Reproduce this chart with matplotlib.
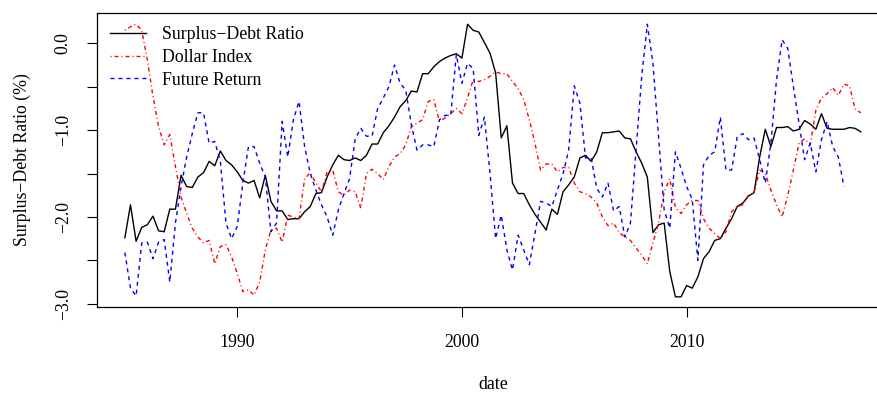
import numpy as np
import matplotlib
matplotlib.use("Agg")
import matplotlib.pyplot as plt
from matplotlib.ticker import FixedLocator, FuncFormatter

plt.rcParams['font.family'] = ['Liberation Serif', 'DejaVu Serif']
plt.rcParams['lines.scale_dashes'] = False

start_year = 1985.0

surplus_debt = [
    -2.24, -1.86, -2.28, -2.12, -2.09, -1.99, -2.16, -2.17, -1.91, -1.91,
    -1.52, -1.65, -1.66, -1.54, -1.49, -1.36, -1.41, -1.24, -1.35, -1.40,
    -1.48, -1.58, -1.61, -1.58, -1.78, -1.52, -1.82, -1.93, -1.93, -2.03,
    -2.02, -2.02, -1.94, -1.88, -1.73, -1.72, -1.54, -1.40, -1.29, -1.34,
    -1.35, -1.32, -1.35, -1.29, -1.16, -1.16, -1.03, -0.95, -0.85, -0.73,
    -0.66, -0.55, -0.56, -0.35, -0.35, -0.27, -0.21, -0.17, -0.14, -0.12,
    -0.17, 0.22, 0.15, 0.13, 0.01, -0.115, -0.34, -1.09, -0.95, -1.61,
    -1.73, -1.73, -1.86, -1.97, -2.06, -2.15, -1.91, -1.97, -1.71, -1.63,
    -1.54, -1.32, -1.29, -1.36, -1.25, -1.03, -1.03, -1.02, -1.01, -1.09,
    -1.10, -1.25, -1.38, -1.54, -2.18, -2.09, -2.07, -2.63, -2.92, -2.92,
    -2.79, -2.82, -2.69, -2.48, -2.40, -2.27, -2.25, -2.13, -2.02, -1.88,
    -1.84, -1.76, -1.72, -1.31, -0.99, -1.19, -0.97, -0.97, -0.96, -1.01,
    -0.99, -0.89, -0.93, -0.99, -0.81, -0.98, -0.99, -0.99, -0.99, -0.97,
    -0.98, -1.02,
]

dollar_index = [
    0.15, 0.19, 0.22, 0.15, -0.19, -0.61, -0.96, -1.17, -1.05, -1.42,
    -1.77, -1.96, -2.13, -2.23, -2.30, -2.27, -2.54, -2.34, -2.32, -2.46,
    -2.65, -2.86, -2.84, -2.90, -2.75, -2.38, -2.15, -2.13, -2.29, -1.98,
    -2.00, -2.02, -1.56, -1.49, -1.61, -1.71, -1.48, -1.46, -1.71, -1.75,
    -1.69, -1.71, -1.90, -1.50, -1.45, -1.50, -1.57, -1.42, -1.31, -1.27,
    -1.17, -0.96, -0.92, -0.88, -0.67, -0.65, -0.90, -0.86, -0.81, -0.75,
    -0.81, -0.63, -0.42, -0.44, -0.42, -0.38, -0.33, -0.35, -0.35, -0.44,
    -0.52, -0.65, -0.88, -1.15, -1.46, -1.39, -1.39, -1.48, -1.43, -1.43,
    -1.61, -1.71, -1.73, -1.77, -1.84, -2.00, -2.10, -2.07, -2.18, -2.23,
    -2.27, -2.36, -2.44, -2.54, -2.30, -2.07, -1.71, -1.56, -1.89, -1.96,
    -1.86, -1.81, -1.81, -2.02, -2.13, -2.19, -2.25, -2.17, -1.94, -1.88,
    -1.86, -1.75, -1.72, -1.46, -1.50, -1.69, -1.86, -2.00, -1.75, -1.46,
    -1.15, -1.10, -1.17, -0.77, -0.63, -0.58, -0.51, -0.60, -0.47, -0.49,
    -0.76, -0.80,
]

future_return = [
    -2.41, -2.82, -2.91, -2.30, -2.29, -2.48, -2.29, -2.26, -2.75, -2.07,
    -1.65, -1.31, -1.04, -0.80, -0.80, -1.15, -1.13, -1.36, -2.07, -2.25,
    -2.11, -1.61, -1.19, -1.19, -1.38, -1.54, -2.17, -2.07, -0.90, -1.31,
    -0.88, -0.67, -1.19, -1.50, -1.69, -1.86, -2.00, -2.21, -1.92, -1.73,
    -1.56, -1.10, -0.98, -1.07, -1.07, -0.75, -0.63, -0.50, -0.25, -0.46,
    -0.54, -0.94, -1.23, -1.17, -1.17, -1.19, -0.88, -0.83, -0.83, -0.13,
    -0.46, -0.23, -0.29, -1.06, -0.85, -1.50, -2.25, -1.98, -2.38, -2.61,
    -2.21, -2.38, -2.55, -2.19, -1.82, -1.84, -1.88, -1.69, -1.50, -1.23,
    -0.49, -0.69, -1.32, -1.32, -1.67, -1.77, -1.61, -1.93, -1.88, -2.23,
    -2.07, -1.23, -0.38, 0.22, -0.23, -1.08, -1.92, -2.13, -1.25, -1.44,
    -1.65, -1.80, -2.50, -1.40, -1.29, -1.25, -0.85, -1.46, -1.46, -1.08,
    -1.04, -1.11, -1.09, -1.34, -1.61, -1.15, -0.42, 0.04, -0.06, -0.50,
    -0.92, -1.34, -1.15, -1.48, -1.11, -0.90, -1.19, -1.31, -1.65,
]

series_labels = ["Surplus\u2212Debt Ratio", "Dollar Index", "Future Return"]
x_ticks = [1990, 2000, 2010]
y_ticks = [-3.0, -2.5, -2.0, -1.5, -1.0, -0.5, 0.0]

def quarters(vals):
    return start_year + np.arange(len(vals)) / 4.0

W, H = 877, 393
fig = plt.figure(figsize=(W / 100, H / 100), dpi=100)
# axes box in pixels: left 97, right 890 (cropped), top 13, bottom 307
ax = fig.add_axes([97 / W, 1 - 307 / H, (890 - 97) / W, (307 - 13) / H])

px = 0.72  # one pixel in points
ax.plot(quarters(surplus_debt), surplus_debt, color='black', lw=1.0, label=series_labels[0])
ax.plot(quarters(dollar_index), dollar_index, color='#FF0000', lw=1.0,
        linestyle=(0, (1 * px, 3 * px, 4 * px, 3 * px)), label=series_labels[1])
ax.plot(quarters(future_return), future_return, color='#0000FF', lw=1.0,
        linestyle=(0, (4 * px, 4 * px)), label=series_labels[2])

ax.set_xlim(1983.76, 2019.05)
ax.set_ylim(-3.037, 0.349)

ax.xaxis.set_major_locator(FixedLocator(x_ticks))
ax.yaxis.set_major_locator(FixedLocator(y_ticks))

def yfmt(v, p):
    if abs(v - round(v)) < 1e-6:
        return f"{v:.1f}".replace('-', '\u2212')
    return ''
ax.yaxis.set_major_formatter(FuncFormatter(yfmt))
ax.xaxis.set_major_formatter(FuncFormatter(lambda v, p: f"{int(v)}"))

fs = 12.8
ax.tick_params(axis='both', direction='out', length=7.2, width=0.8, labelsize=fs, color='black')
ax.tick_params(axis='x', pad=11.9)
ax.tick_params(axis='y', pad=10.9, labelrotation=90)
for lab in ax.get_yticklabels():
    lab.set_verticalalignment('center')

for s in ax.spines.values():
    s.set_linewidth(0.9)
    s.set_color('black')

ax.set_xlabel("date", fontsize=fs, labelpad=18.2)
ax.set_ylabel("Surplus\u2212Debt Ratio (%)", fontsize=fs, labelpad=16.9)

leg = ax.legend(loc='upper left', bbox_to_anchor=(0, 1), borderaxespad=0, fontsize=fs,
                frameon=True, fancybox=False, framealpha=0, edgecolor='black',
                handlelength=2.0, handletextpad=0.9, borderpad=0.75, labelspacing=0.32)
leg.get_frame().set_linewidth(0.9)
leg.get_frame().set_edgecolor('black')

fig.savefig("out.png", dpi=100)
